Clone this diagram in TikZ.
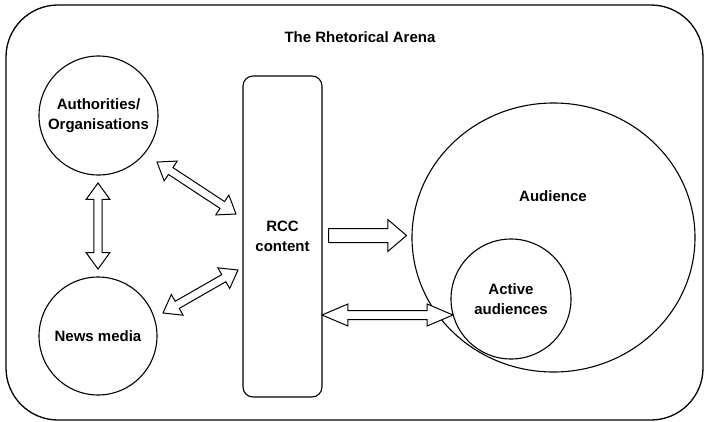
\documentclass[tikz,border=0pt]{standalone}
\usepackage{fontspec}
\setmainfont{Liberation Sans}
\usetikzlibrary{shapes.arrows,shapes.geometric,calc}
\begin{document}
\begin{tikzpicture}[x=1pt,y=-1pt,
  line width=1.1pt,
  lbl/.style={font=\fontsize{15}{19.5}\selectfont\bfseries, align=center},
  circ/.style={circle, draw, inner sep=0pt, lbl},
  dblarrow/.style={double arrow, draw, fill=white, line width=1pt, inner xsep=0pt,
    inner ysep=3.6pt, minimum width=0pt,
    double arrow head extend=7.8pt, double arrow tip angle=72},
  longdbl/.style={dblarrow, inner ysep=4pt, double arrow head extend=6.5pt,
    double arrow tip angle=46},
  fwdarrow/.style={single arrow, draw, fill=white, line width=1pt, inner xsep=0pt,
    inner ysep=6.5pt, minimum width=0pt,
    single arrow head extend=9pt, single arrow tip angle=81}
]
\useasboundingbox (0,0) rectangle (705,421);

% arena frame and heading
\draw[line width=1.3pt, rounded corners=52pt] (6,5) rectangle (703,420);
\node[lbl] (title) at (360,37) {The Rhetorical Arena};

% actors
\node[circ, minimum size=119pt] (auth) at (98.5,115.5) {Authorities/\\Organisations};
\node[circ, minimum size=118pt] (news) at (98,336) {News media};
\node[draw, rounded corners=10pt, minimum width=79pt, minimum height=321pt,
      inner sep=0pt, lbl] (rcc) at (282.5,236.5) {RCC\\content};

% audience and its active part
\node[ellipse, draw, inner sep=0pt, minimum width=283pt, minimum height=269pt]
      (aud) at (553.5,237.5) {};
\node[lbl] (audlbl) at (553,196) {Audience};
\node[circ, minimum size=120pt] (active) at (511,299) {Active\\audiences};

% arrow end points
\coordinate (v1) at (98,183);   \coordinate (v2) at (98,269);
\coordinate (d1) at (157,162);  \coordinate (d2) at (236,214);
\coordinate (e1) at (163,313);  \coordinate (e2) at (238,270);
\coordinate (r1) at (328,235.5);
\coordinate (b1) at (322,315);  \coordinate (b2) at (453,315);

% two-way exchanges
\path let \p1=($(v2)-(v1)$), \n1={veclen(\x1,\y1)} in
  (v1) -- node[dblarrow, sloped, minimum height=\n1] (avn) {} (v2);
\path let \p1=($(d2)-(d1)$), \n1={veclen(\x1,\y1)} in
  (d1) -- node[dblarrow, sloped, minimum height=\n1] (arc) {} (d2);
\path let \p1=($(e2)-(e1)$), \n1={veclen(\x1,\y1)} in
  (e1) -- node[dblarrow, sloped, minimum height=\n1] (nrc) {} (e2);
\path let \p1=($(b2)-(b1)$), \n1={veclen(\x1,\y1)} in
  (b1) -- node[longdbl, sloped, minimum height=\n1] (rca) {} (b2);

% one-way flow to the audience
\node[fwdarrow, anchor=tail, minimum height=78pt] (rau) at (r1) {};
\end{tikzpicture}
\end{document}
